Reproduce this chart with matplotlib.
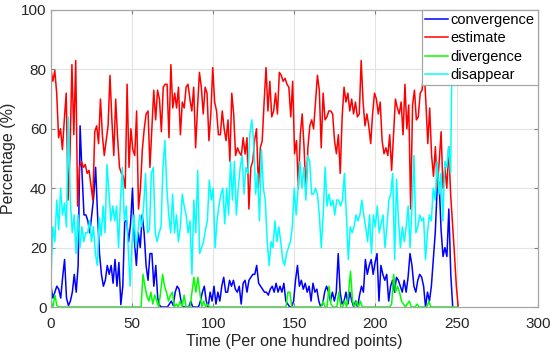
"""Percentage of point states over time"""

import numpy as np
import matplotlib
matplotlib.use('Agg')
import matplotlib.pyplot as plt

plt.rcParams['font.family'] = ['Liberation Sans', 'DejaVu Sans']

# values, one roughly every 1.2 time units
convergence = [
    7, 3, 5, 7, 6, 3, 10, 16, 3, 0.5, 2, 5, 11, 5, 14, 61, 45, 31,
    31, 29, 25, 31, 37, 47, 31, 18, 11, 7, 9, 14, 11, 14, 8, 16, 7, 15, 0.8, 7, 29,
    29, 22, 28, 40, 22, 14, 25, 20, 31, 25, 14, 9, 18, 18, 7, 14, 3, 0.5, 0, 0, 0, 0,
    1, 2, 0.5, 5, 7, 6, 2, 0, 0, 0, 0, 2, 0, 0, 0, 0, 2, 5, 7, 2, 0,
    5, 2, 7, 1, 5, 2, 7, 10, 5, 5, 9, 7, 9, 6, 5, 7, 1, 8, 9, 5, 9, 10,
    11, 11, 14, 8, 7, 6, 5, 5, 4, 6, 7, 5, 8, 5, 7, 5, 8, 2, 1, 0, 0,
    2, 9, 14, 7, 9, 6, 8, 5, 7, 2, 8, 5, 6, 2, 0, 1, 5, 7, 5, 2, 5,
    2, 5, 18, 5, 1, 2, 5, 1, 5, 2, 0, 2, 0, 4, 7, 5, 16, 11, 14, 16, 11, 15,
    18, 2, 14, 11, 9, 11, 2, 7, 9, 5, 10, 9, 7, 5, 9, 5, 10, 18, 14, 7, 5, 9,
    11, 10, 7, 0, 5, 2, 7, 16, 25, 40, 42, 26, 17, 20, 17, 33, 11, 0,
]
estimate = [
    79.8, 76, 79.6, 72, 57, 60, 53, 63, 72, 36, 52, 81.6, 58, 83, 34, 47, 49,
    47, 48, 45, 46, 41, 36, 59, 61, 55, 70, 58, 51, 56, 61, 78, 63, 51, 70, 57, 47, 45,
    44, 40, 75, 47, 60, 53, 51, 66, 33, 40, 53, 60, 65, 66, 47, 60, 73, 63, 73, 70, 59, 74,
    75, 75, 57, 81.6, 67, 72, 67, 74, 58, 69, 67, 74, 75, 70, 66, 74, 53.6, 67, 79, 74, 65, 74,
    72, 56, 65, 80.6, 69, 66, 58, 58, 66, 60, 56, 63, 49, 72, 65, 51, 53.6, 52, 51, 57, 51.5, 57, 33,
    47, 49, 56, 60, 40, 53.6, 56, 69, 80.6, 66, 76, 64, 66, 72, 65, 79, 78, 76, 77, 75, 74, 64,
    76, 51.6, 56, 40, 58, 65, 53.6, 38, 53.6, 61, 63, 60, 69, 78, 73, 53.6, 72, 63, 64, 66, 66, 65,
    56, 51.6, 58, 45, 64, 74, 69, 72, 66, 70, 65, 69, 64, 65, 83, 69, 61, 65, 61, 55, 65, 72,
    70, 65, 69, 56, 51.6, 53.6, 51, 58, 46, 58, 70, 67, 65, 69, 58, 75, 60, 68, 33, 68, 73, 63,
    64, 72, 73, 80.6, 69, 55, 67, 51, 44, 54, 40, 49, 59, 40, 47, 40, 54, 38, 28, 18, 7, 0,
]
divergence = [
    2, 0, 4, 0.5, 0, 0, 0, 0, 0, 0, 0, 0, 0, 0, 0, 0, 0, 0, 0, 0, 0, 0,
    0, 0, 0, 0, 0, 0, 0, 0, 0, 0, 0, 0, 0, 0, 0, 0, 0, 0, 0, 0, 0, 0, 0, 0,
    0, 11, 7, 3.6, 2, 5, 1, 4, 2, 0, 5, 11, 7, 5, 2,
    4, 5, 0, 1, 0, 2, 0, 4, 0, 0, 0, 5, 10, 5, 10, 5, 0, 2, 0, 1, 0,
    0, 0, 0, 0, 0, 0, 0, 0, 0, 0, 0, 0, 0, 0, 0, 0, 0, 0, 0, 0, 0, 0,
    0, 0, 0, 0, 0, 0, 0, 0, 0, 0, 0, 0, 0, 0, 0, 0, 0, 5, 5, 0, 0,
    0, 0, 0, 0, 0, 0, 0, 0, 0, 0, 0, 0, 0, 0, 2, 0, 0, 7, 1, 0, 0, 0,
    5, 0, 0, 2, 0, 5, 12, 2, 0, 2, 0, 2, 0, 0, 0, 0, 0, 0, 0, 0, 0, 0,
    0, 0, 0, 0, 0, 1, 11, 5, 7, 5, 2, 1, 0, 1, 2, 0, 0, 0, 1, 0, 0, 0,
    0, 0, 2, 0, 0, 0, 0, 0, 0, 0, 0, 0, 0, 0, 0, 0, 0, 0,
]
disappear = [
    10, 27, 22, 36, 26, 40, 31, 35, 27, 64, 36, 25, 31, 18, 31, 20, 27, 22,
    25, 25, 29, 22, 27, 18, 14, 30, 24, 34, 25, 48, 39, 29, 34, 29, 34, 20, 36, 47, 29,
    34, 20, 7, 22, 31, 20, 25, 31, 27, 34, 45, 25, 26, 45, 47, 25, 22, 25, 27, 47, 56, 40,
    31, 25, 38, 25, 31, 22, 27, 38, 34, 31, 25, 29, 11, 36, 25, 46, 18, 20, 22, 26, 29,
    42.7, 36, 40, 20, 29, 34, 38, 40, 28, 40, 31, 49, 36, 49, 31, 40, 47, 51, 38, 47, 45, 58, 63,
    56, 38, 45, 29, 53, 40, 36, 22, 14, 22, 20, 29, 22, 27, 22, 16, 14, 18, 20, 22, 27, 40,
    31, 40, 49, 40, 47, 36, 51, 49, 38, 38, 40, 38, 31, 20, 31, 47, 34, 38, 34, 36, 31, 36,
    36, 34, 36, 45, 31, 16, 27, 25, 27, 31, 29, 31, 36, 31, 27, 22, 31, 18, 31, 27, 34, 25,
    28, 31, 20, 27, 36, 38, 45, 16, 43, 29, 20, 27, 22, 27, 34, 20, 34, 51, 25, 27, 31, 29,
    30, 16, 25, 31, 29, 40, 36, 49, 38, 45, 29, 49, 47, 54, 45, 100,
]

# time span covered by each series
spans = {'convergence': (0, 247.6), 'estimate': (0, 251),
         'divergence': (0, 251), 'disappear': (0, 247.5)}

series = [
    ('convergence', convergence, '#0000ff'),
    ('estimate', estimate, '#ff0000'),
    ('divergence', divergence, '#00ff00'),
    ('disappear', disappear, '#00ffff'),
]

fig = plt.figure(figsize=(5.5, 3.53), dpi=100)
ax = fig.add_axes([0.0927, 0.1303, 0.885, 0.8414])

for name, vals, color in series:
    t0, t1 = spans[name]
    t = np.linspace(t0, t1, len(vals))
    ax.plot(t, vals, color=color, linewidth=1.1, label=name)

ax.set_xlim(0, 300)
ax.set_ylim(0, 100)
ax.set_xticks(range(0, 301, 50))
ax.set_yticks(range(0, 101, 20))
ax.set_xlabel('Time (Per one hundred points)', fontsize=11.5, color='#262626', labelpad=2)
ax.set_ylabel('Percentage (%)', fontsize=11.5, color='#262626', labelpad=4)

ax.grid(True, color='#e3e3e3', linewidth=0.8)
ax.set_axisbelow(True)
for sp in ax.spines.values():
    sp.set_color('#a6a6a6')
    sp.set_linewidth(0.9)
ax.tick_params(direction='in', top=True, right=True, length=3,
               color='#808080', labelsize=11, labelcolor='#262626', pad=3)
ax.tick_params(axis='x', pad=7.5)

leg = ax.legend(loc='upper right', borderaxespad=0, fancybox=False,
                edgecolor='#a6a6a6', framealpha=1, fontsize=10.5,
                handlelength=1.6, handletextpad=0.2, labelspacing=0.3,
                borderpad=0.2)
leg.get_frame().set_linewidth(0.9)

fig.savefig('out.png', dpi=100)
